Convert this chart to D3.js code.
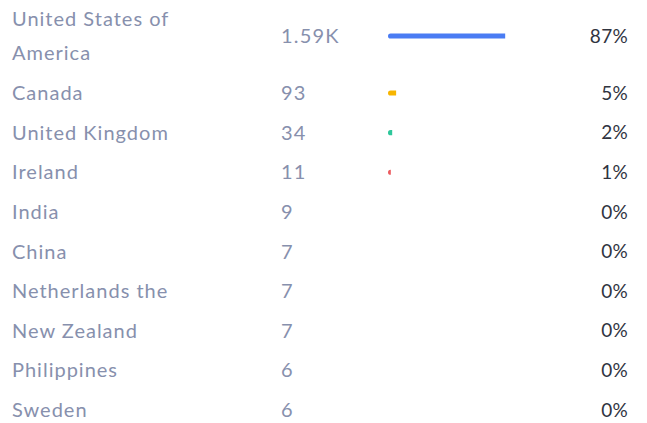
<!DOCTYPE html>
<html>
<head>
<meta charset="utf-8">
<script src="https://d3js.org/d3.v7.min.js"></script>
<style>
  body { margin:0; background:#fff; }
  .label { font: 20px Lato, sans-serif; fill:#8790ad; letter-spacing:1px; }
  .value { font: 20px Lato, sans-serif; fill:#8790ad; letter-spacing:1.2px; }
  .perc  { font: 19px Lato, sans-serif; fill:#30343f; text-anchor:end; letter-spacing:0.3px; }
</style>
</head>
<body>
<script>
var countries = ["United States of America", "Canada", "United Kingdom", "Ireland", "India",
                 "China", "Netherlands the", "New Zealand", "Philippines", "Sweden"];
var counts = ["1.59K", "93", "34", "11", "9", "7", "7", "7", "6", "6"];
var percents = [87, 5, 2, 1, 0, 0, 0, 0, 0, 0];
var colors = ["#4a7cf3", "#f7b500", "#2ec79b", "#ec5b5f"];

var w = 647, h = 423;
var svg = d3.select("body").append("svg").attr("width", w).attr("height", h);

// row centres: first row wraps onto two lines
var rowY = d3.scaleLinear().domain([1, 9]).range([93, 410]);
function yPos(i) { return i === 0 ? 36 : rowY(i); }

var x = d3.scaleLinear().domain([0, 100]).range([0, 133]);

var rows = svg.selectAll(".row")
  .data(countries)
  .enter().append("g")
  .attr("class", "row")
  .attr("transform", function(d, i) { return "translate(0," + yPos(i) + ")"; });

rows.append("text")
  .attr("class", "label")
  .attr("x", 12)
  .each(function(d, i) {
    var t = d3.select(this);
    if (i === 0) {
      t.append("tspan").attr("x", 12).attr("y", -17).attr("dy", "0.35em").text("United States of");
      t.append("tspan").attr("x", 12).attr("y", 17).attr("dy", "0.35em").text("America");
    } else {
      t.attr("dy", "0.35em").text(d);
    }
  });

rows.append("text")
  .attr("class", "value")
  .attr("x", 281)
  .attr("dy", "0.35em")
  .text(function(d, i) { return counts[i]; });

rows.filter(function(d, i) { return percents[i] > 0; })
  .append("path")
  .attr("fill", function(d, i) { return colors[i]; })
  .attr("d", function(d, i) {
    var bw = Math.max(x(percents[i]) + 1.5, 2), r = 2.6, x0 = 388;
    var p = d3.path();
    var rr = Math.min(r, bw);
    p.moveTo(x0 + rr, -r);
    p.lineTo(x0 + bw, -r);
    p.lineTo(x0 + bw, r);
    p.lineTo(x0 + rr, r);
    p.arcTo(x0, r, x0, 0, rr);
    p.arcTo(x0, -r, x0 + rr, -r, rr);
    p.closePath();
    return p.toString();
  });

rows.append("text")
  .attr("class", "perc")
  .attr("x", 628)
  .attr("dy", "0.35em")
  .text(function(d, i) { return percents[i] + "%"; });
</script>
</body>
</html>
